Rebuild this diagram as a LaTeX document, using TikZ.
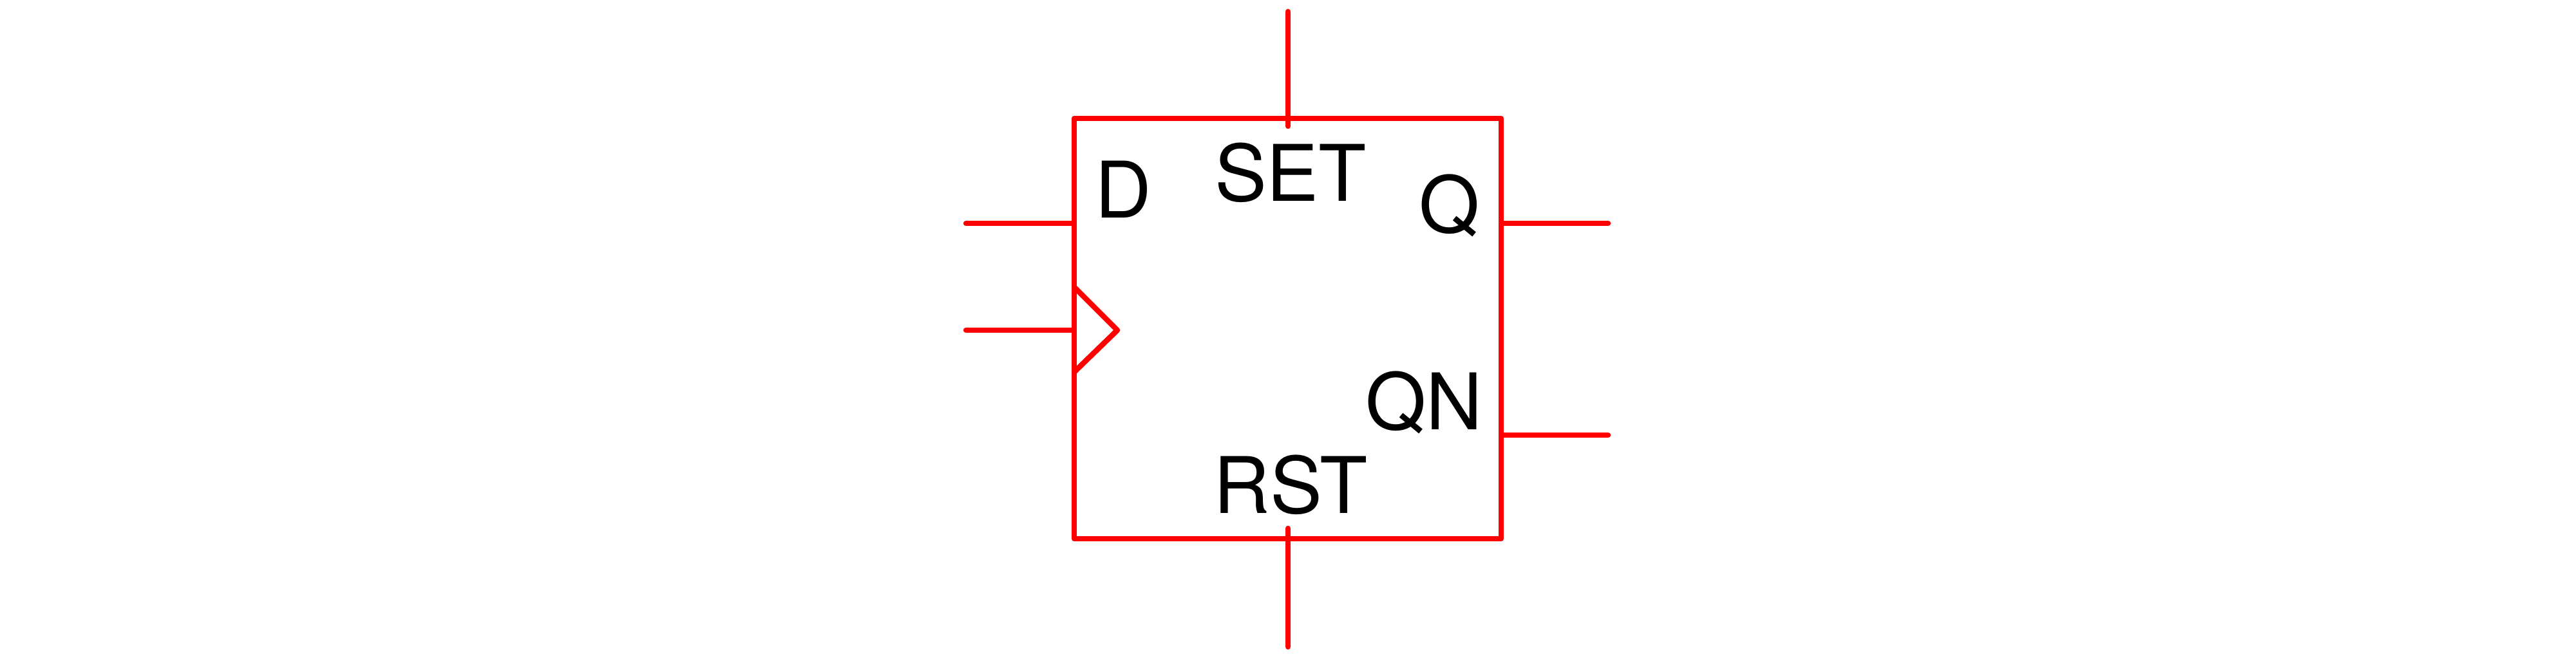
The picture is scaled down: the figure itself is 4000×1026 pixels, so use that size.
\documentclass[tikz,border=0pt]{standalone}
\usepackage{fontspec}
\setmainfont{TeX Gyre Heros}
\begin{document}
\begin{tikzpicture}[x=0.01cm,y=-0.01cm,
  wire/.style={draw=red,line width=2.4pt,line cap=round,line join=round},
  lbl/.style={inner sep=0pt,font=\fontsize{34.5}{40}\selectfont,text=black}]
\useasboundingbox (0,0) rectangle (4000,1026);
% flip-flop body
\node[wire,rectangle,minimum width=6.63cm,minimum height=6.53cm,inner sep=0pt] (ff) at (1999.5,510.5) {};
% pin end points
\coordinate (dend) at (1500,347);
\coordinate (clkend) at (1500,513);
\coordinate (qend) at (2497,347);
\coordinate (qnend) at (2497,676);
\coordinate (setend) at (2000,18);
\coordinate (setin) at (2000,196);
\coordinate (rstend) at (2000,1005);
\coordinate (rstin) at (2000,821);
\coordinate (clkt) at (1668,446);
\coordinate (clkb) at (1668,578);
\coordinate (clktip) at (1735,513);
% pins
\draw[wire] (dend) -- (ff.west |- dend);
\draw[wire] (clkend) -- (ff.west |- clkend);
\draw[wire] (ff.east |- qend) -- (qend);
\draw[wire] (ff.east |- qnend) -- (qnend);
\draw[wire] (setend) -- (setin);
\draw[wire] (rstin) -- (rstend);
% clock triangle
\draw[wire] (clkt) -- (clktip) -- (clkb);
% labels
\node[lbl,anchor=base west] (ld) at (1700,338) {D};
\node[lbl,anchor=base] (lset) at (2004,312) {SET};
\node[lbl,anchor=base east] (lq) at (2299,361) {Q};
\node[lbl,anchor=base east] (lqn) at (2303,667) {QN};
\node[lbl,anchor=base] (lrst) at (2004,797) {RST};
\end{tikzpicture}
\end{document}
